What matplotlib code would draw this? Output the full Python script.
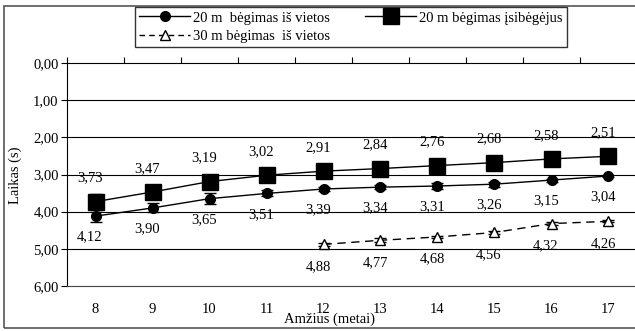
import matplotlib
matplotlib.use("Agg")
import matplotlib.pyplot as plt
from matplotlib.patches import Rectangle
from matplotlib.lines import Line2D
from matplotlib.ticker import FuncFormatter
import numpy as np

plt.rcParams['font.family'] = ['Liberation Serif', 'DejaVu Serif']
plt.rcParams['font.size'] = 10.5

ages = ["8", "9", "10", "11", "12", "13", "14", "15", "16", "17"]

run20_start = [4.12, 3.90, 3.65, 3.51, 3.39, 3.34, 3.31, 3.26, 3.15, 3.04]
run20_start_err = [0.17, 0.12, 0.15, 0.08, 0.06, 0.05, 0.07, 0.07, 0.04, 0.04]

run20_fly = [3.73, 3.47, 3.19, 3.02, 2.91, 2.84, 2.76, 2.68, 2.58, 2.51]
run20_fly_err = [0.20, 0.08, 0.16, 0.06, 0.05, 0.05, 0.05, 0.05, 0.05, 0.05]

run30_ages = ["12", "13", "14", "15", "16", "17"]
run30_start = [4.88, 4.77, 4.68, 4.56, 4.32, 4.26]
run30_start_err = [0.05, 0.05, 0.03, 0.03, 0.03, 0.03]

W, H = 635, 331
fig = plt.figure(figsize=(W / 100, H / 100), dpi=100)

# outer frame (right side falls outside the picture)
fig.patches.append(Rectangle((4 / W, 3 / H), 1.0, 1 - 9 / H, transform=fig.transFigure,
                             fill=False, edgecolor="#555555", lw=1.2))

ax = fig.add_axes([67 / W, 45 / H, 570 / W, 223 / H])

x = np.arange(len(ages))
x30 = np.array([ages.index(a) for a in run30_ages])

for yv in [1, 2, 3, 4, 5]:
    ax.axhline(yv, color="black", lw=0.8, zorder=0)

dash = (0, (6, 4))
ax.errorbar(x, run20_start, yerr=run20_start_err, color="black", marker="o", ms=7,
            lw=1, capsize=4, elinewidth=1, zorder=3)
ax.errorbar(x, run20_fly, yerr=run20_fly_err, color="black", marker="s", ms=11,
            lw=1, capsize=4, elinewidth=1, zorder=3)
ax.errorbar(x30, run30_start, yerr=run30_start_err, color="black", marker="^", ms=7,
            mfc="white", lw=1, ls=dash, capsize=4, elinewidth=1, zorder=3)

for xi, v in zip(x, run20_fly):
    ax.annotate(f"{v:.2f}".replace(".", ","), (xi, v), xytext=(-4, 17),
                textcoords="offset points", ha="center", va="center")
for xi, v in zip(x, run20_start):
    ax.annotate(f"{v:.2f}".replace(".", ","), (xi, v), xytext=(-4, -15),
                textcoords="offset points", ha="center", va="center")
for xi, v in zip(x30, run30_start):
    ax.annotate(f"{v:.2f}".replace(".", ","), (xi, v), xytext=(-4, -16),
                textcoords="offset points", ha="center", va="center")

ax.set_xlim(-0.5, len(ages) - 0.5)
ax.set_ylim(6, 0)
ax.set_yticks([0, 1, 2, 3, 4, 5, 6])
ax.yaxis.set_major_formatter(FuncFormatter(lambda v, p: f"{v:.2f}".replace(".", ",")))
ax.tick_params(axis="y", direction="out", length=4, width=0.8, pad=2)

ax.set_xticks(x)
ax.set_xticklabels(ages)
ax.tick_params(axis="x", which="major", length=0, pad=12)
ax.set_xticks(np.arange(-0.5, len(ages), 1.0), minor=True)
ax.tick_params(axis="x", which="minor", bottom=False, top=True, direction="out",
               length=4, width=0.8)

for s in ["top", "left"]:
    ax.spines[s].set_linewidth(0.8)
ax.spines["bottom"].set_linewidth(0.8)
ax.spines["bottom"].set_color("#444444")
ax.spines["right"].set_visible(False)

fig.text(15 / W, 1 - 175 / H, "Laikas (s)", rotation=90, ha="center", va="center")
fig.text(330 / W, 1 - 319 / H, "Amžius (metai)", ha="center", va="center")

handles = [
    Line2D([], [], color="black", marker="o", ms=7, lw=1),
    Line2D([], [], color="black", marker="^", ms=7, mfc="white", lw=1, ls=(0, (4, 3))),
    Line2D([], [], color="black", marker="s", ms=11, lw=1),
]
labels = ["20 m  bėgimas iš vietos", "30 m bėgimas  iš vietos", "20 m bėgimas įsibėgėjus"]
leg = fig.legend(handles, labels, loc="upper left", bbox_to_anchor=(135 / W, 1 - 7 / H),
                 borderaxespad=0, ncol=2, frameon=True, fancybox=False,
                 edgecolor="black", borderpad=0.3, handlelength=3.5,
                 handletextpad=0.2, columnspacing=2.4, labelspacing=0.35)
leg.get_frame().set_linewidth(1)

fig.savefig("out.png", dpi=100)
